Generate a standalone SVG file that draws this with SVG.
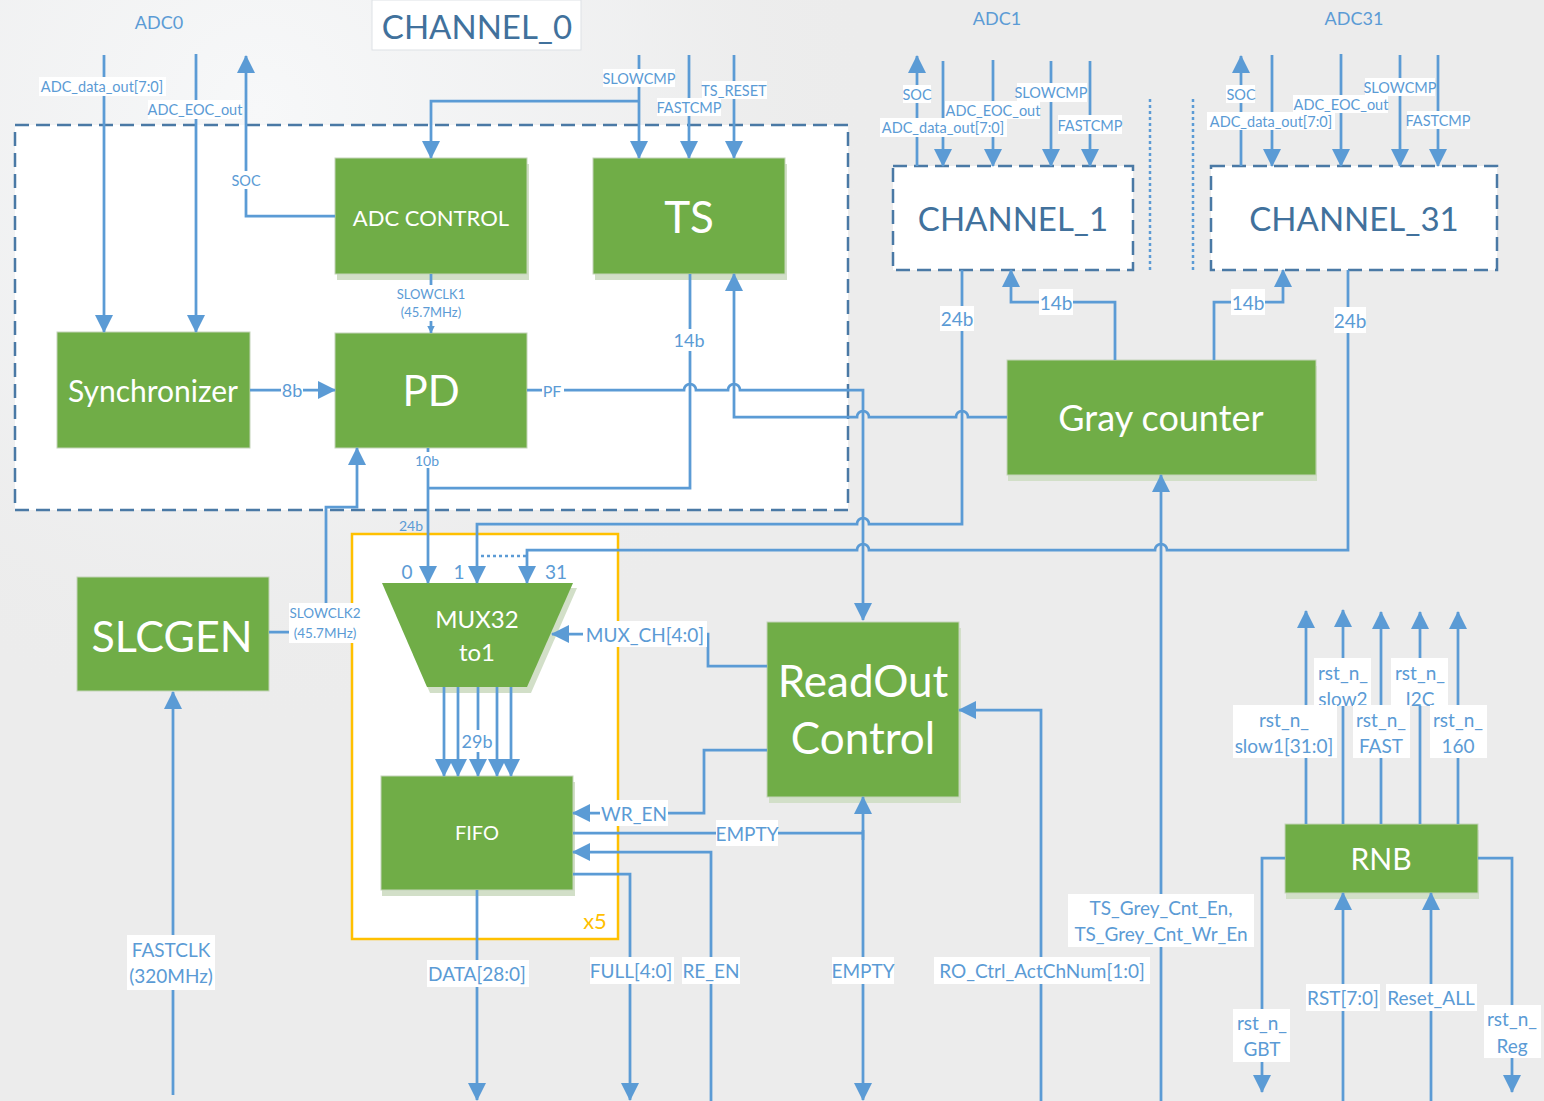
<svg xmlns="http://www.w3.org/2000/svg" width="1544" height="1101" viewBox="0 0 1544 1101">
  <style>
    .ln { fill: none; stroke: #5B9BD5; stroke-width: 2.75; }
    .arr { marker-end: url(#ah); }
    .arrs { marker-end: url(#ahs); }
    .dot { fill: none; stroke: #5B9BD5; stroke-width: 2.5; stroke-dasharray: 3 3; }
    .t { font-family: Lato, "Liberation Sans", "DejaVu Sans", sans-serif; text-anchor: middle; dominant-baseline: central; }
    .lbl { fill: #5B9BD5; }
    .bg { fill: #ffffff; }
    .box { fill: #70AD47; stroke: #c4d4b9; stroke-width: 1; }
    .shd { fill: #d2dfc8; }
    .bt { fill: #ffffff; }
    .cont { fill: #ffffff; stroke: #4a79a5; stroke-width: 2.5; stroke-dasharray: 14 7; }
    .ch { fill: #41719C; font-size: 33px; }
  </style>
  <defs>
    <marker id="ah" markerUnits="userSpaceOnUse" markerWidth="18" markerHeight="18" viewBox="0 0 18 18" refX="17" refY="9" orient="auto">
      <path d="M0,0 L18,9 L0,18 z" fill="#5B9BD5"/>
    </marker>
    <marker id="ahs" markerUnits="userSpaceOnUse" markerWidth="8" markerHeight="8" viewBox="0 0 8 8" refX="7.5" refY="4" orient="auto">
      <path d="M0,0 L8,4 L0,8 z" fill="#5B9BD5"/>
    </marker>
    <radialGradient id="glow" gradientUnits="userSpaceOnUse" cx="260" cy="110" r="620">
      <stop offset="0" stop-color="#f7f8f9"/>
      <stop offset="0.6" stop-color="#f2f3f4" stop-opacity="0.6"/>
      <stop offset="1" stop-color="#ececec" stop-opacity="0"/>
    </radialGradient>
  </defs>

  <!-- background -->
  <rect width="1544" height="1101" fill="#ececec"/>
  <rect width="1544" height="1101" fill="url(#glow)"/>

  <!-- ADC group headings -->
  <text class="t lbl" x="159" y="22" font-size="18">ADC0</text>
  <text class="t lbl" x="997" y="18" font-size="18">ADC1</text>
  <text class="t lbl" x="1354" y="18" font-size="18">ADC31</text>

  <!-- channel 0 container -->
  <g id="channel0">
    <rect class="cont" x="15" y="125" width="833" height="385"/>
    <rect x="372" y="0" width="209" height="50" fill="#ffffff" stroke="#dde1e5" stroke-width="1"/>
    <text class="t ch" x="477" y="26">CHANNEL_0</text>
  </g>

  <!-- FIFO bank container (x5) -->
  <g id="fifo-bank">
    <rect x="352" y="534" width="266" height="405" fill="#ffffff" stroke="#FFC000" stroke-width="2.5"/>
    <text class="t" x="595" y="920" font-size="22" fill="#FFC000">x5</text>
  </g>

  <!-- channel 1 -->
  <g id="channel1">
    <rect class="cont" x="893" y="166" width="240" height="104"/>
    <text class="t ch" x="1013" y="218">CHANNEL_1</text>
  </g>

  <!-- channel 31 -->
  <g id="channel31">
    <rect class="cont" x="1211" y="166" width="286" height="104"/>
    <text class="t ch" x="1354" y="218">CHANNEL_31</text>
  </g>

  <!-- functional blocks -->
  <g id="adc-control">
    <rect class="shd" x="337" y="164" width="192" height="116"/>
    <rect class="box" x="335" y="158" width="192" height="116"/>
    <text class="t bt" x="431" y="217" font-size="22">ADC CONTROL</text>
  </g>
  <g id="ts">
    <rect class="shd" x="595" y="164" width="192" height="116"/>
    <rect class="box" x="593" y="158" width="192" height="116"/>
    <text class="t bt" x="689" y="216" font-size="44">TS</text>
  </g>
  <g id="synchronizer">
    <rect class="box" x="57" y="332" width="193" height="116"/>
    <text class="t bt" x="153" y="390" font-size="30">Synchronizer</text>
  </g>
  <g id="pd">
    <rect class="box" x="335" y="333" width="192" height="115"/>
    <text class="t bt" x="431" y="390" font-size="42">PD</text>
  </g>
  <g id="slcgen">
    <rect class="box" x="77" y="577" width="192" height="114"/>
    <text class="t bt" x="172" y="635" font-size="43">SLCGEN</text>
  </g>
  <g id="mux">
    <polygon class="shd" points="385,588 577,588 531,693 430,693"/>
    <polygon points="382,583 573,583 527,687 427,687" fill="#70AD47"/>
    <text class="t bt" x="477" y="618" font-size="24">MUX32</text>
    <text class="t bt" x="477" y="651" font-size="24">to1</text>
  </g>
  <g id="fifo">
    <rect class="shd" x="382" y="782" width="193" height="114"/>
    <rect class="box" x="381" y="776" width="192" height="114"/>
    <text class="t bt" x="477" y="832" font-size="20">FIFO</text>
  </g>
  <g id="readout-control">
    <rect class="shd" x="769" y="628" width="192" height="175"/>
    <rect class="box" x="767" y="622" width="192" height="175"/>
    <text class="t bt" x="863" y="680" font-size="44">ReadOut</text>
    <text class="t bt" x="863" y="737" font-size="44">Control</text>
  </g>
  <g id="gray-counter">
    <rect class="shd" x="1008" y="366" width="309" height="115"/>
    <rect class="box" x="1007" y="360" width="309" height="115"/>
    <text class="t bt" x="1161" y="417" font-size="36">Gray counter</text>
  </g>
  <g id="rnb">
    <rect class="shd" x="1286" y="830" width="193" height="69"/>
    <rect class="box" x="1285" y="824" width="193" height="69"/>
    <text class="t bt" x="1381" y="858" font-size="30">RNB</text>
  </g>

  <!-- signal connectors -->
  <g id="connectors">
    <!-- ADC0 interface -->
    <path class="ln arr" d="M104,55 V332"/>
    <path class="ln arr" d="M196,54 V332"/>
    <path class="ln arr" d="M335,216 H246 V56"/>
    <path class="ln arr" d="M639,55 V158"/>
    <path class="ln arr" d="M639,101 H431 V158"/>
    <path class="ln arr" d="M689,55 V158"/>
    <path class="ln arr" d="M734,55 V158"/>

    <!-- channel 0 internals -->
    <path class="ln arr" d="M250,390 H335"/>
    <path class="ln arrs" d="M431,274 V333"/>
    <path class="ln arr" d="M527,390 H684 A6,6 0 0 1 696,390 H728 A6,6 0 0 1 740,390 H863 V620"/>
    <path class="ln" d="M690,274 V488 H428"/>
    <path class="ln arr" d="M428,448 V583"/>
    <path class="ln arr" d="M1007,417 H968 A6,6 0 0 0 956,417 H869 A6,6 0 0 0 857,417 H734 V274"/>

    <!-- channel data into the MUX -->
    <path class="ln arr" d="M962,270 V524 H869 A6,6 0 0 0 857,524 H477 V583"/>
    <path class="ln arr" d="M1348,270 V550 H1167 A6,6 0 0 0 1155,550 H869 A6,6 0 0 0 857,550 H527 V583"/>
    <path class="dot" d="M481,556 H526"/>

    <!-- clocks -->
    <path class="ln arr" d="M269,632 H326 V507 H357 V448"/>
    <path class="ln arr" d="M173,1095 V692"/>

    <!-- MUX / FIFO / readout -->
    <path class="ln arr" d="M767,666 H708 V634 H552"/>
    <path class="ln arr" d="M444,687 V776"/>
    <path class="ln arr" d="M458,687 V776"/>
    <path class="ln arr" d="M478,687 V776"/>
    <path class="ln arr" d="M497,687 V776"/>
    <path class="ln arr" d="M511,687 V776"/>
    <path class="ln arr" d="M767,750 H704 V813 H573"/>
    <path class="ln" d="M573,833 H863"/>
    <path class="ln arr" d="M863,840 V797"/>
    <path class="ln arr" d="M863,830 V1100"/>
    <path class="ln arr" d="M711,1101 V852 H573"/>
    <path class="ln arr" d="M573,874 H630 V1100"/>
    <path class="ln arr" d="M477,890 V1100"/>
    <path class="ln arr" d="M1041,1101 V710 H959"/>

    <!-- gray counter -->
    <path class="ln arr" d="M1115,360 V302 H1011 V270"/>
    <path class="ln arr" d="M1214,360 V302 H1283 V270"/>
    <path class="ln arr" d="M1161,1101 V475"/>

    <!-- ADC1 interface -->
    <path class="ln arr" d="M917,166 V56"/>
    <path class="ln arr" d="M943,61 V166"/>
    <path class="ln arr" d="M993,60 V166"/>
    <path class="ln arr" d="M1051,61 V166"/>
    <path class="ln arr" d="M1090,61 V166"/>

    <!-- ADC31 interface -->
    <path class="ln arr" d="M1241,166 V56"/>
    <path class="ln arr" d="M1272,55 V166"/>
    <path class="ln arr" d="M1341,54 V166"/>
    <path class="ln arr" d="M1400,55 V166"/>
    <path class="ln arr" d="M1438,55 V166"/>

    <!-- omitted channels -->
    <path class="dot" d="M1150,99 V272"/>
    <path class="dot" d="M1193,99 V272"/>

    <!-- reset network -->
    <path class="ln arr" d="M1306,824 V611"/>
    <path class="ln arr" d="M1343,824 V610"/>
    <path class="ln arr" d="M1381,824 V612"/>
    <path class="ln arr" d="M1420,824 V612"/>
    <path class="ln arr" d="M1458,824 V612"/>
    <path class="ln arr" d="M1285,858 H1262 V1092"/>
    <path class="ln arr" d="M1478,858 H1512 V1092"/>
    <path class="ln arr" d="M1343,1101 V893"/>
    <path class="ln arr" d="M1431,1101 V893"/>
  </g>

  <!-- signal labels -->
  <g id="labels">
    <rect class="bg" x="39" y="77" width="127" height="19"/>
    <text class="t lbl" x="102" y="86.5" font-size="14.5">ADC_data_out[7:0]</text>
    <rect class="bg" x="148" y="100" width="94" height="19"/>
    <text class="t lbl" x="195" y="109.5" font-size="14.5">ADC_EOC_out</text>
    <rect class="bg" x="231" y="171" width="30" height="18"/>
    <text class="t lbl" x="246" y="180" font-size="14.5">SOC</text>
    <rect class="bg" x="603" y="69" width="72" height="18"/>
    <text class="t lbl" x="639" y="78" font-size="14.5">SLOWCMP</text>
    <rect class="bg" x="657" y="98" width="64" height="18"/>
    <text class="t lbl" x="689" y="107" font-size="14.5">FASTCMP</text>
    <rect class="bg" x="702" y="81" width="65" height="18"/>
    <text class="t lbl" x="734" y="90" font-size="14.5">TS_RESET</text>

    <rect class="bg" x="394" y="285" width="74" height="36"/>
    <text class="t lbl" x="431" y="294" font-size="13">SLOWCLK1</text>
    <text class="t lbl" x="431" y="312" font-size="13">(45.7MHz)</text>
    <rect class="bg" x="673" y="329" width="33" height="22"/>
    <text class="t lbl" x="689" y="340" font-size="18">14b</text>
    <rect class="bg" x="281" y="380" width="22" height="20"/>
    <text class="t lbl" x="292" y="390" font-size="18">8b</text>
    <rect class="bg" x="542" y="381" width="22" height="18"/>
    <text class="t lbl" x="552" y="390" font-size="16">PF</text>
    <rect class="bg" x="414" y="452" width="28" height="16"/>
    <text class="t lbl" x="427" y="460" font-size="14">10b</text>
    <text class="t lbl" x="411" y="525" font-size="14">24b</text>

    <text class="t lbl" x="407" y="571" font-size="19">0</text>
    <text class="t lbl" x="459" y="571" font-size="19">1</text>
    <text class="t lbl" x="556" y="571" font-size="19">31</text>
    <rect class="bg" x="463" y="730" width="30" height="22"/>
    <text class="t lbl" x="477" y="741" font-size="18">29b</text>
    <rect class="bg" x="583" y="621" width="124" height="26"/>
    <text class="t lbl" x="645" y="634" font-size="19">MUX_CH[4:0]</text>
    <rect class="bg" x="600" y="800" width="68" height="26"/>
    <text class="t lbl" x="634" y="813" font-size="19">WR_EN</text>
    <rect class="bg" x="716" y="820" width="62" height="26"/>
    <text class="t lbl" x="747" y="833" font-size="19">EMPTY</text>

    <rect class="bg" x="289" y="603" width="72" height="40"/>
    <text class="t lbl" x="325" y="613" font-size="13.5">SLOWCLK2</text>
    <text class="t lbl" x="325" y="633" font-size="13.5">(45.7MHz)</text>
    <rect class="bg" x="127" y="935" width="88" height="55"/>
    <text class="t lbl" x="171" y="949" font-size="19">FASTCLK</text>
    <text class="t lbl" x="171" y="975" font-size="19">(320MHz)</text>

    <rect class="bg" x="427" y="960" width="102" height="27"/>
    <text class="t lbl" x="477" y="973" font-size="19">DATA[28:0]</text>
    <rect class="bg" x="590" y="957" width="84" height="27"/>
    <text class="t lbl" x="631" y="970" font-size="19">FULL[4:0]</text>
    <rect class="bg" x="682" y="957" width="58" height="27"/>
    <text class="t lbl" x="711" y="970" font-size="19">RE_EN</text>
    <rect class="bg" x="832" y="957" width="62" height="27"/>
    <text class="t lbl" x="863" y="970" font-size="19">EMPTY</text>
    <rect class="bg" x="934" y="957" width="216" height="27"/>
    <text class="t lbl" x="1042" y="970" font-size="19">RO_Ctrl_ActChNum[1:0]</text>
    <rect class="bg" x="1068" y="894" width="186" height="53"/>
    <text class="t lbl" x="1161" y="907" font-size="19">TS_Grey_Cnt_En,</text>
    <text class="t lbl" x="1161" y="933" font-size="19">TS_Grey_Cnt_Wr_En</text>

    <rect class="bg" x="903" y="85" width="28" height="18"/>
    <text class="t lbl" x="917" y="94" font-size="14.5">SOC</text>
    <rect class="bg" x="945" y="101" width="95" height="18"/>
    <text class="t lbl" x="993" y="110" font-size="14.5">ADC_EOC_out</text>
    <rect class="bg" x="880" y="118" width="127" height="19"/>
    <text class="t lbl" x="943" y="127" font-size="14.5">ADC_data_out[7:0]</text>
    <rect class="bg" x="1017" y="83" width="70" height="19"/>
    <text class="t lbl" x="1051" y="92" font-size="14.5">SLOWCMP</text>
    <rect class="bg" x="1058" y="115" width="64" height="19"/>
    <text class="t lbl" x="1090" y="125" font-size="14.5">FASTCMP</text>
    <rect class="bg" x="940" y="306" width="34" height="25"/>
    <text class="t lbl" x="957" y="318" font-size="19">24b</text>
    <rect class="bg" x="1039" y="289" width="34" height="26"/>
    <text class="t lbl" x="1056" y="302" font-size="19">14b</text>

    <rect class="bg" x="1226" y="85" width="29" height="18"/>
    <text class="t lbl" x="1241" y="94" font-size="14.5">SOC</text>
    <rect class="bg" x="1293" y="95" width="95" height="18"/>
    <text class="t lbl" x="1341" y="104" font-size="14.5">ADC_EOC_out</text>
    <rect class="bg" x="1207" y="112" width="128" height="18"/>
    <text class="t lbl" x="1271" y="121" font-size="14.5">ADC_data_out[7:0]</text>
    <rect class="bg" x="1365" y="78" width="70" height="18"/>
    <text class="t lbl" x="1400" y="87" font-size="14.5">SLOWCMP</text>
    <rect class="bg" x="1407" y="111" width="63" height="18"/>
    <text class="t lbl" x="1438" y="120" font-size="14.5">FASTCMP</text>
    <rect class="bg" x="1231" y="289" width="34" height="26"/>
    <text class="t lbl" x="1248" y="302" font-size="19">14b</text>
    <rect class="bg" x="1334" y="307" width="32" height="26"/>
    <text class="t lbl" x="1350" y="320" font-size="19">24b</text>

    <rect class="bg" x="1314" y="658" width="57" height="48"/>
    <text class="t lbl" x="1343" y="672" font-size="19">rst_n_</text>
    <text class="t lbl" x="1343" y="698" font-size="19">slow2</text>
    <rect class="bg" x="1391" y="658" width="57" height="48"/>
    <text class="t lbl" x="1420" y="672" font-size="19">rst_n_</text>
    <text class="t lbl" x="1420" y="698" font-size="19">I2C</text>
    <rect class="bg" x="1233" y="705" width="104" height="53"/>
    <text class="t lbl" x="1284" y="719" font-size="19">rst_n_</text>
    <text class="t lbl" x="1284" y="745" font-size="19">slow1[31:0]</text>
    <rect class="bg" x="1353" y="705" width="57" height="53"/>
    <text class="t lbl" x="1381" y="719" font-size="19">rst_n_</text>
    <text class="t lbl" x="1381" y="745" font-size="19">FAST</text>
    <rect class="bg" x="1430" y="705" width="57" height="53"/>
    <text class="t lbl" x="1458" y="719" font-size="19">rst_n_</text>
    <text class="t lbl" x="1458" y="745" font-size="19">160</text>
    <rect class="bg" x="1306" y="984" width="74" height="27"/>
    <text class="t lbl" x="1343" y="997" font-size="19">RST[7:0]</text>
    <rect class="bg" x="1386" y="984" width="91" height="27"/>
    <text class="t lbl" x="1431" y="997" font-size="19">Reset_ALL</text>
    <rect class="bg" x="1233" y="1009" width="57" height="53"/>
    <text class="t lbl" x="1262" y="1022" font-size="19">rst_n_</text>
    <text class="t lbl" x="1262" y="1048" font-size="19">GBT</text>
    <rect class="bg" x="1484" y="1005" width="57" height="53"/>
    <text class="t lbl" x="1512" y="1018" font-size="19">rst_n_</text>
    <text class="t lbl" x="1512" y="1045" font-size="19">Reg</text>
  </g>
</svg>
